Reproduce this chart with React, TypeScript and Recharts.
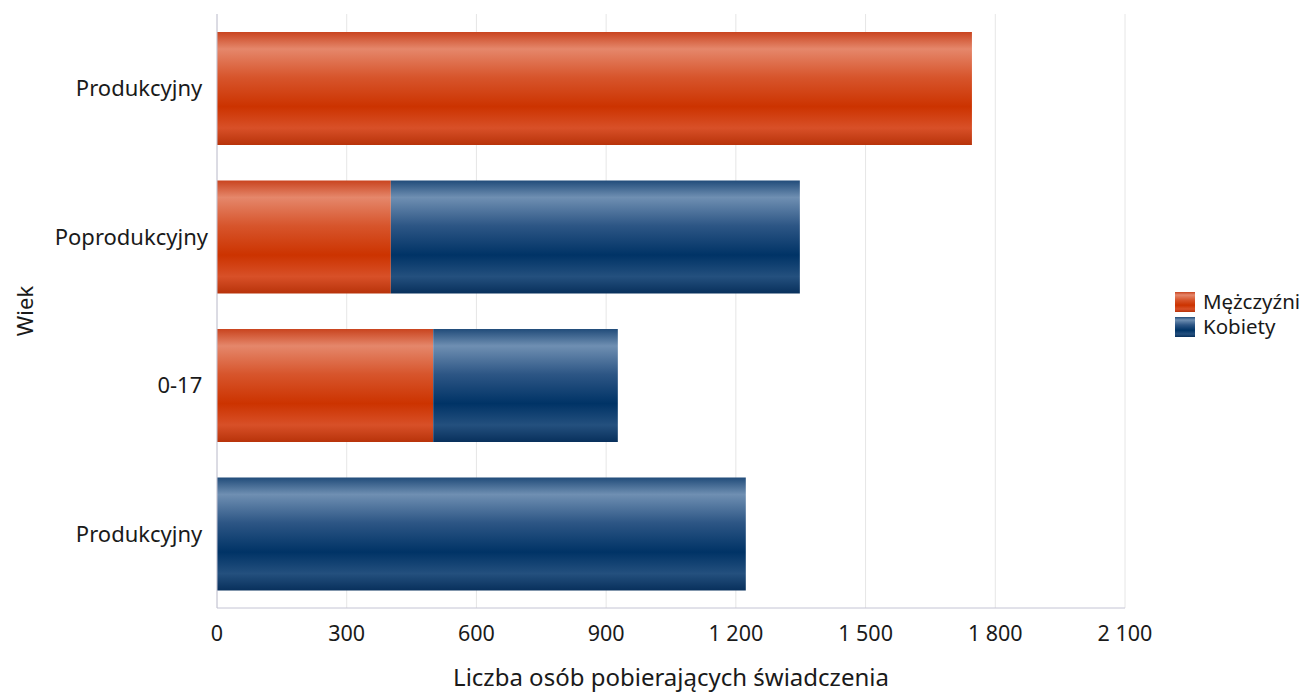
import React from 'react';
import { BarChart, Bar, XAxis, YAxis, CartesianGrid } from 'recharts';

const categoryIds = ['p1', 'pp', 'a017', 'p2'];
const categoryLabels = ['Produkcyjny\u00a0', 'Poprodukcyjny', '0-17\u00a0', 'Produkcyjny\u00a0'];
const menValues = [1746, 402, 500, 0];
const womenValues = [0, 946, 427, 1223];
const xTicks = [0, 300, 600, 900, 1200, 1500, 1800, 2100];

const data = categoryIds.map((id, i) => ({
  id,
  label: categoryLabels[i],
  m: menValues[i],
  k: womenValues[i],
}));

const FONT = '"Noto Sans", "Open Sans", sans-serif';

const fmt = (v: number) => {
  const s = String(v);
  if (s.length <= 3) return s;
  return s.slice(0, s.length - 3) + '\u00a0' + s.slice(s.length - 3);
};

const labelFor = (id: string) => {
  const i = categoryIds.indexOf(id);
  return i >= 0 ? categoryLabels[i] : id;
};

const RedGrad = ({ id }: { id: string }) => (
  <linearGradient id={id} x1="0" y1="0" x2="0" y2="1">
    <stop offset="0%" stopColor="#c9441f" />
    <stop offset="15%" stopColor="#e5876b" />
    <stop offset="40%" stopColor="#d7552c" />
    <stop offset="66%" stopColor="#cc3300" />
    <stop offset="85%" stopColor="#d85028" />
    <stop offset="100%" stopColor="#b8330a" />
  </linearGradient>
);

const BlueGrad = ({ id }: { id: string }) => (
  <linearGradient id={id} x1="0" y1="0" x2="0" y2="1">
    <stop offset="0%" stopColor="#214c7a" />
    <stop offset="15%" stopColor="#6f8fb2" />
    <stop offset="40%" stopColor="#2d5685" />
    <stop offset="66%" stopColor="#003366" />
    <stop offset="85%" stopColor="#24507e" />
    <stop offset="100%" stopColor="#08305c" />
  </linearGradient>
);

const WiekLabel = (props: any) => {
  const vb = props.viewBox || { x: 0, y: 0, width: 0, height: 0 };
  const cx = 16;
  const cy = vb.y + vb.height / 2;
  return (
    <text
      x={cx}
      y={cy}
      transform={`rotate(-90, ${cx}, ${cy})`}
      textAnchor="middle"
      dominantBaseline="central"
      fontSize={22}
      fill="#1a1a1a"
      fontFamily={FONT}
    >
      Wiek
    </text>
  );
};

export default function App() {
  return (
    <div style={{ position: 'relative', width: 1296, height: 684, fontFamily: FONT }}>
      <BarChart
        width={1296}
        height={684}
        data={data}
        layout="vertical"
        margin={{ top: 6, right: 179, left: 0, bottom: 0 }}
        barSize={113}
      >
        <defs>
          <RedGrad id="gradRed" />
          <BlueGrad id="gradBlue" />
        </defs>
        <CartesianGrid horizontal={false} stroke="#e6e6e6" />
        <XAxis
          type="number"
          domain={[0, 2100]}
          ticks={xTicks}
          tickFormatter={fmt}
          axisLine={{ stroke: '#c4c4d4' }}
          tickLine={false}
          tickMargin={12}
          height={84}
          tick={{ fontSize: 21.5, fill: '#1a1a1a', fontFamily: FONT }}
          interval={0}
          label={{
            value: 'Liczba osób pobierających świadczenia',
            position: 'insideBottom',
            offset: 6,
            fontSize: 24,
            fill: '#1a1a1a',
            fontFamily: FONT,
          }}
        />
        <YAxis
          type="category"
          dataKey="id"
          width={209}
          tickFormatter={labelFor}
          axisLine={{ stroke: '#c4c4d4' }}
          tickLine={false}
          tickMargin={3}
          tick={{ fontSize: 22, fill: '#1a1a1a', fontFamily: FONT }}
          label={<WiekLabel />}
        />
        <Bar dataKey="m" stackId="s" fill="url(#gradRed)" isAnimationActive={false} name="Mężczyźni" />
        <Bar dataKey="k" stackId="s" fill="url(#gradBlue)" isAnimationActive={false} name="Kobiety" />
      </BarChart>
      <div style={{ position: 'absolute', left: 1167, top: 281, fontSize: 20.5, color: '#1a1a1a' }}>
        {[
          { name: 'Mężczyźni', grad: 'lgRed', G: RedGrad },
          { name: 'Kobiety', grad: 'lgBlue', G: BlueGrad },
        ].map((it) => (
          <div key={it.name} style={{ display: 'flex', alignItems: 'center', height: 25 }}>
            <svg width={20} height={20} style={{ marginRight: 8 }}>
              <defs>
                <it.G id={it.grad} />
              </defs>
              <rect x={0} y={0} width={20} height={20} fill={`url(#${it.grad})`} />
            </svg>
            <span style={{ lineHeight: '21px', display: 'block' }}>{it.name}</span>
          </div>
        ))}
      </div>
    </div>
  );
}
